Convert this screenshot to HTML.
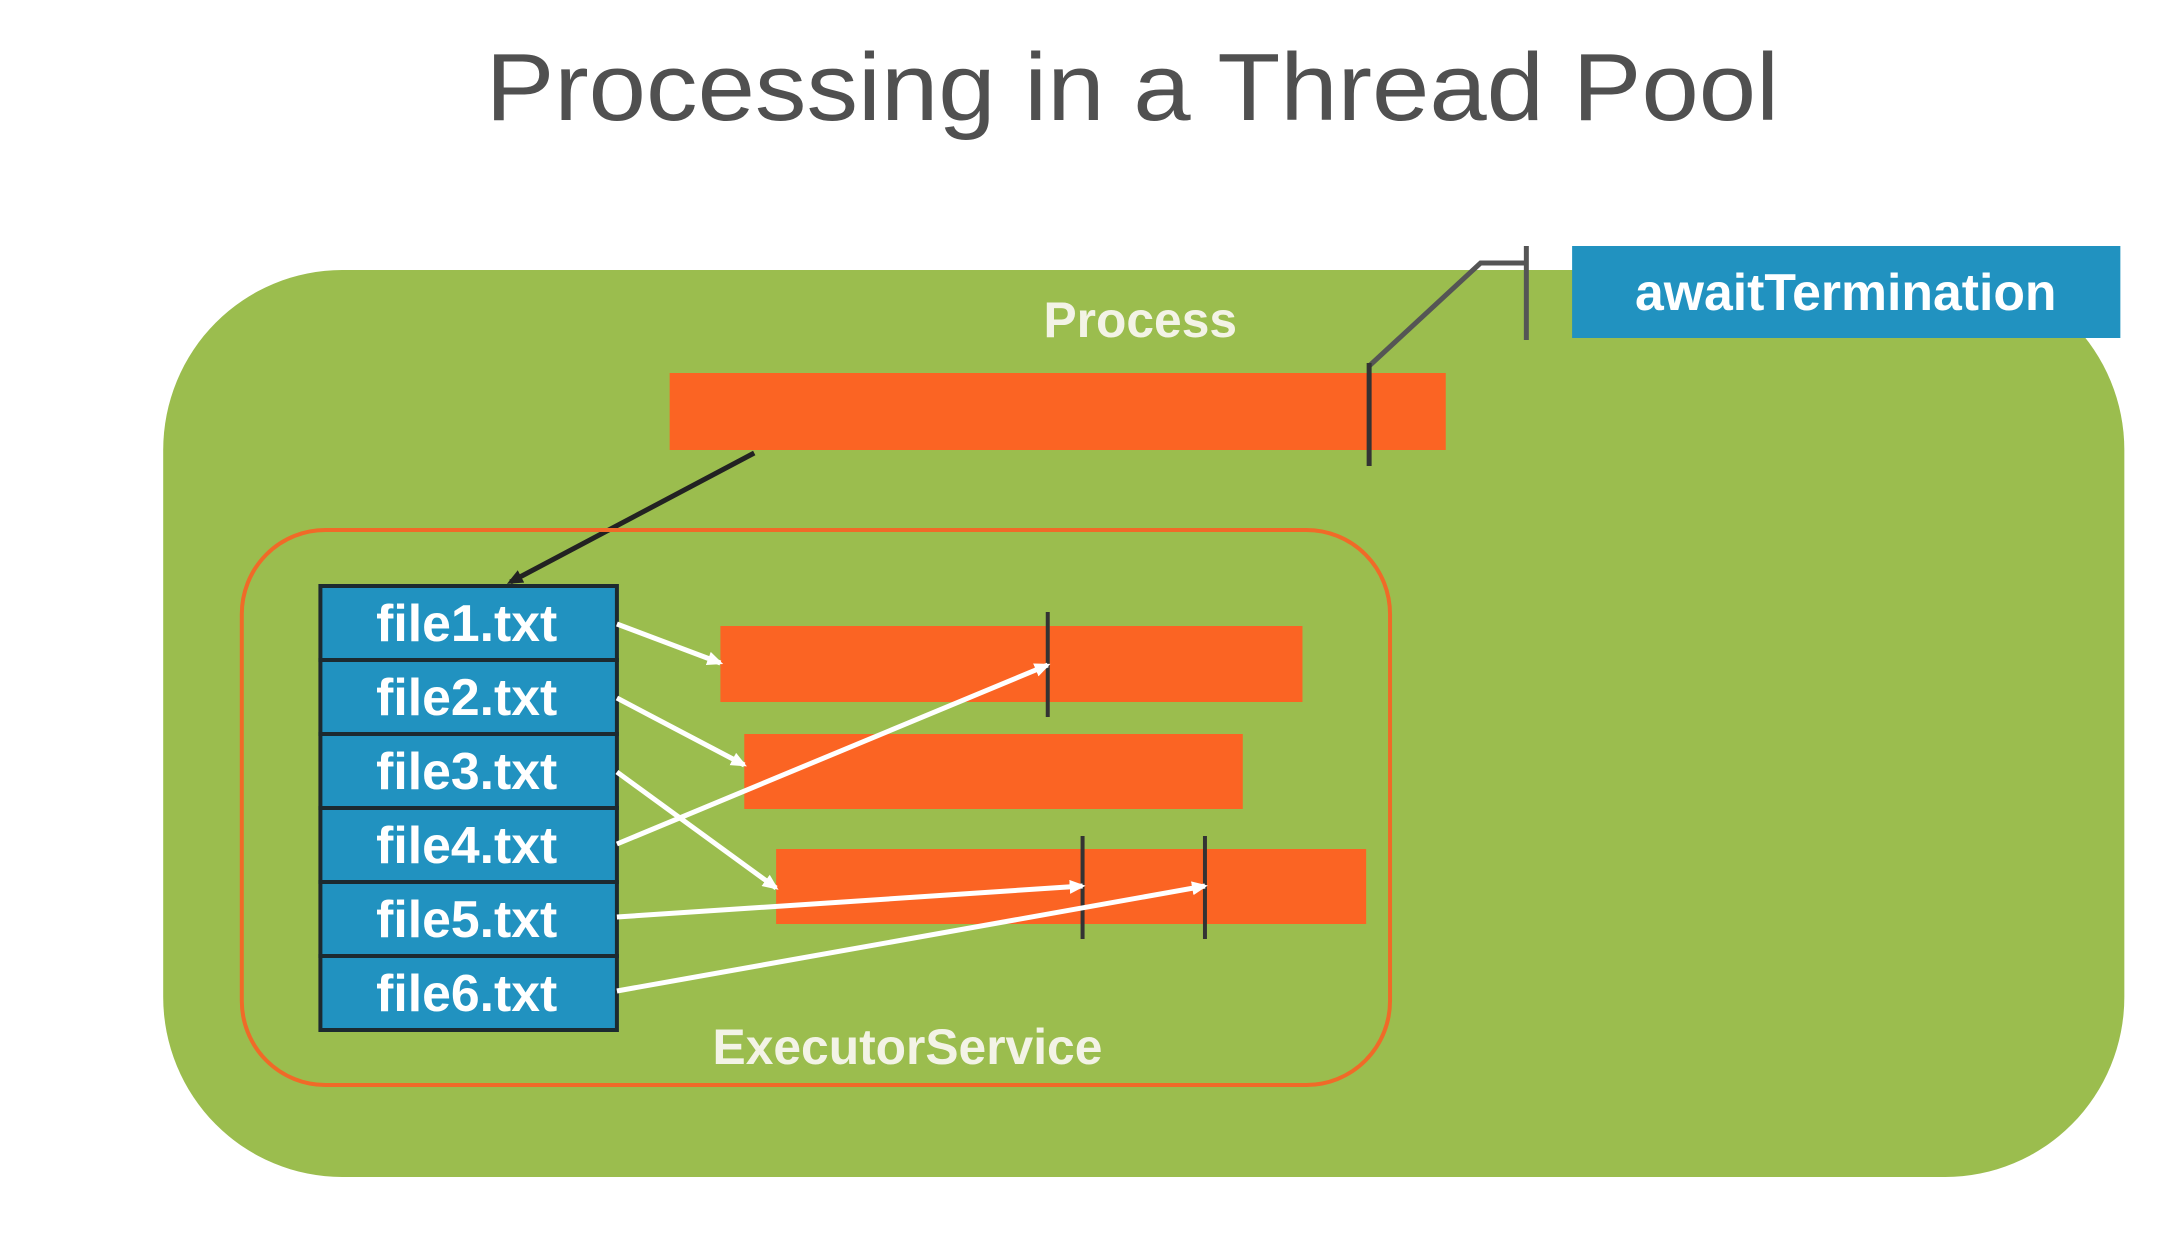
<!DOCTYPE html>
<html><head><meta charset="utf-8"><style>
html,body{margin:0;padding:0;background:#fff;}
svg{display:block;}
text{font-family:"Liberation Sans",sans-serif;}
</style></head><body>
<svg width="2181" height="1236" viewBox="0 0 2181 1236" xmlns="http://www.w3.org/2000/svg">
<defs>
<marker id="wa" markerWidth="16" markerHeight="14" refX="13" refY="7" orient="auto" markerUnits="userSpaceOnUse">
<path d="M0,0 L16,7 L0,14 z" fill="#fff"/></marker>
<marker id="ba" markerWidth="16" markerHeight="14" refX="12" refY="7" orient="auto" markerUnits="userSpaceOnUse">
<path d="M0,0 L16,7 L0,14 z" fill="#222"/></marker>
</defs>
<rect width="2181" height="1236" fill="#fff"/>
<g transform="translate(3,0) scale(0.995,1)">
<text x="1135" y="120" text-anchor="middle" font-size="96" fill="#505050" textLength="1300" lengthAdjust="spacingAndGlyphs">Processing in a Thread Pool</text>
<rect x="161" y="270" width="1971" height="907" rx="180" ry="180" fill="#9bbd4e"/>
<rect x="1577" y="246" width="551" height="92" fill="#2192c0"/>
<text x="1852" y="310" text-anchor="middle" font-size="52" font-weight="bold" fill="#fff">awaitTermination</text>
<polyline points="1373,366 1485,263 1531,263" fill="none" stroke="#555" stroke-width="5"/>
<line x1="1531" y1="246" x2="1531" y2="340" stroke="#555" stroke-width="5"/>
<text x="1143" y="337" text-anchor="middle" font-size="50" font-weight="bold" fill="#f3f3e6">Process</text>
<rect x="670" y="373" width="780" height="77" fill="#fb6423"/>
<line x1="1373" y1="363" x2="1373" y2="466" stroke="#333" stroke-width="5"/>
<line x1="755" y1="453" x2="510" y2="582" stroke="#222" stroke-width="5" marker-end="url(#ba)"/>
<rect x="240" y="530" width="1154" height="555" rx="84" ry="84" fill="none" stroke="#f06a28" stroke-width="4"/>
<text x="909" y="1064" text-anchor="middle" font-size="50" font-weight="bold" fill="#f3f3e6">ExecutorService</text>
<rect x="721" y="626" width="585" height="76" fill="#fb6423"/>
<rect x="745" y="734" width="501" height="75" fill="#fb6423"/>
<rect x="777" y="849" width="593" height="75" fill="#fb6423"/>
<line x1="1050" y1="612" x2="1050" y2="717" stroke="#333" stroke-width="4"/>
<line x1="1085" y1="836" x2="1085" y2="939" stroke="#333" stroke-width="4"/>
<line x1="1208" y1="836" x2="1208" y2="939" stroke="#333" stroke-width="4"/>
<g stroke="#1c2a30" stroke-width="4" fill="#2192c0">
<rect x="319" y="586" width="298" height="74"/>
<rect x="319" y="660" width="298" height="74"/>
<rect x="319" y="734" width="298" height="74"/>
<rect x="319" y="808" width="298" height="74"/>
<rect x="319" y="882" width="298" height="74"/>
<rect x="319" y="956" width="298" height="74"/>
</g>
<g font-size="52" font-weight="bold" fill="#fff" text-anchor="middle">
<text x="466" y="641">file1.txt</text>
<text x="466" y="715">file2.txt</text>
<text x="466" y="789">file3.txt</text>
<text x="466" y="863">file4.txt</text>
<text x="466" y="937">file5.txt</text>
<text x="466" y="1011">file6.txt</text>
</g>
<g stroke="#fff" stroke-width="5" fill="none">
<line x1="617" y1="624" x2="721" y2="663" marker-end="url(#wa)"/>
<line x1="617" y1="698" x2="745" y2="765" marker-end="url(#wa)"/>
<line x1="617" y1="772" x2="777" y2="888" marker-end="url(#wa)"/>
<line x1="617" y1="844" x2="1050" y2="665" marker-end="url(#wa)"/>
<line x1="617" y1="917" x2="1085" y2="886" marker-end="url(#wa)"/>
<line x1="617" y1="991" x2="1208" y2="886" marker-end="url(#wa)"/>
</g>
</g>
</svg>
</body></html>
